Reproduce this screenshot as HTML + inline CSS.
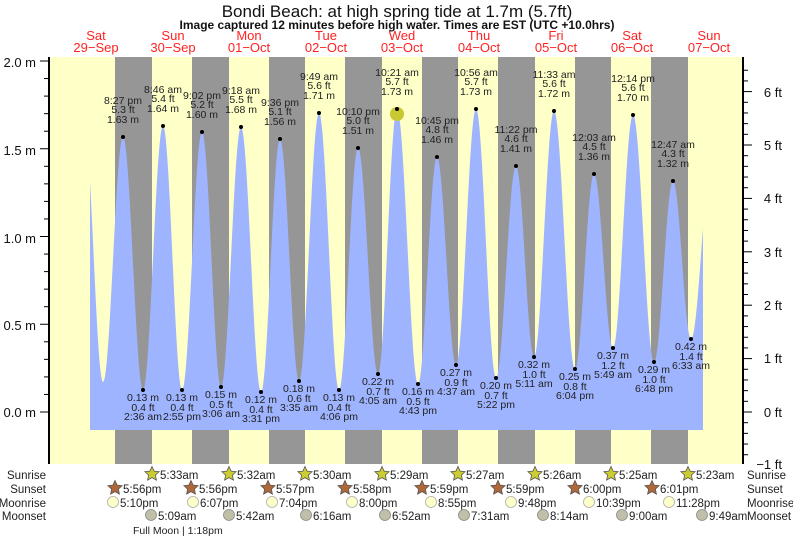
<!DOCTYPE html>
<html><head><meta charset="utf-8"><style>
html,body{margin:0;padding:0;background:#fff;}
svg{display:block;font-family:"Liberation Sans",sans-serif;}
.pk text,.tr text{font-size:10.5px;fill:#222;text-anchor:middle;}
.ax{font-size:13px;fill:#111;}
.rw{font-size:11.5px;fill:#222;}
.dl{font-size:13px;fill:#f22;text-anchor:middle;}
</style></head><body>
<svg id="s" width="793" height="538" viewBox="0 0 793 538">
<rect x="49" y="57" width="694" height="407" fill="#ffffc8"/>
<g fill="#969696">
<rect x="115" y="57" width="37" height="407"/><rect x="192" y="57" width="37" height="407"/>
<rect x="269" y="57" width="36" height="407"/><rect x="345" y="57" width="37" height="407"/>
<rect x="422" y="57" width="36" height="407"/><rect x="498" y="57" width="37" height="407"/>
<rect x="575" y="57" width="36" height="407"/><rect x="651" y="57" width="37" height="407"/>
</g>
<path id="tide" fill="#9fb4ff" d=""/>
<circle cx="397" cy="114" r="7" fill="#c8c832"/>
<line x1="49" y1="57" x2="49" y2="464" stroke="#000" stroke-width="2"/>
<line x1="743" y1="57" x2="743" y2="464" stroke="#000" stroke-width="2"/>
<g id="ticks" stroke="#000" stroke-width="1"></g>
<text x="397" y="17" font-size="17" text-anchor="middle" fill="#111">Bondi Beach: at high  spring tide at 1.7m (5.7ft)</text>
<text x="397" y="29" font-size="12" font-weight="bold" text-anchor="middle" fill="#111">Image captured 12 minutes before high water. Times are EST (UTC +10.0hrs)</text>
<g>
<text class="dl" x="96" y="40">Sat</text><text class="dl" x="96" y="52">29−Sep</text>
<text class="dl" x="173" y="40">Sun</text><text class="dl" x="173" y="52">30−Sep</text>
<text class="dl" x="249" y="40">Mon</text><text class="dl" x="249" y="52">01−Oct</text>
<text class="dl" x="326" y="40">Tue</text><text class="dl" x="326" y="52">02−Oct</text>
<text class="dl" x="402" y="40">Wed</text><text class="dl" x="402" y="52">03−Oct</text>
<text class="dl" x="479" y="40">Thu</text><text class="dl" x="479" y="52">04−Oct</text>
<text class="dl" x="556" y="40">Fri</text><text class="dl" x="556" y="52">05−Oct</text>
<text class="dl" x="632" y="40">Sat</text><text class="dl" x="632" y="52">06−Oct</text>
<text class="dl" x="709" y="40">Sun</text><text class="dl" x="709" y="52">07−Oct</text>
</g>
<g class="ax" text-anchor="end">
<text x="36" y="67">2.0 m</text><text x="36" y="155">1.5 m</text><text x="36" y="243">1.0 m</text><text x="36" y="330">0.5 m</text><text x="36" y="417">0.0 m</text>
</g>
<g class="ax" text-anchor="end">
<text x="782" y="97">6 ft</text><text x="782" y="150">5 ft</text><text x="782" y="203">4 ft</text><text x="782" y="257">3 ft</text><text x="782" y="310">2 ft</text><text x="782" y="363">1 ft</text><text x="782" y="417">0 ft</text><text x="782" y="469">−1 ft</text>
</g>
<g class="pk" id="pk"></g>
<g class="tr" id="tr"></g>
<g class="rw">
<text x="46" y="479" text-anchor="end">Sunrise</text><text x="46" y="493" text-anchor="end">Sunset</text><text x="46" y="507" text-anchor="end">Moonrise</text><text x="46" y="520" text-anchor="end">Moonset</text>
<text x="747" y="479">Sunrise</text><text x="747" y="493">Sunset</text><text x="747" y="507">Moonrise</text><text x="747" y="520">Moonset</text>
</g>
<g id="astro" class="rw"></g>
<text x="133" y="534" font-size="10.5" fill="#222">Full Moon | 1:18pm</text>
</svg>
<script>
var NS="http://www.w3.org/2000/svg";
function el(t,a,p,txt){var e=document.createElementNS(NS,t);for(var k in a)e.setAttribute(k,a[k]);if(txt!==undefined)e.textContent=txt;p.appendChild(e);return e;}
var ex=[[84,123],[103,382],[123,137],[143,390],[163,126],[182,390],[202,132],[221,387],[241,127],[261,392],[280,139],[299,381],[319,113],[339,390],[358,148],[378,374],[397,109],[418,384],[437,157],[456,365],[476,109],[496,378],[516,166],[534,357],[554,111],[575,369],[594,174],[613,348],[633,115],[654,362],[673,181],[691,339],[712,157]];
var d="M90,430";
for(var x=90;x<=703;x+=0.5){var i=0;while(ex[i+1][0]<x)i++;var a=ex[i],b=ex[i+1];var f=(x-a[0])/(b[0]-a[0]);var y=a[1]+(b[1]-a[1])*(1-Math.cos(Math.PI*f))/2;d+=" L"+x+","+y.toFixed(1);}
d+=" L703,430 Z";document.getElementById("tide").setAttribute("d",d);
var tk=document.getElementById("ticks");
for(var j=0;j<=23;j++){var yy=412-j*17.55;if(yy<57)break;var big=(j%5==0);el("line",{x1:big?40:44,y1:yy,x2:49,y2:yy},tk);}
for(j=-1;j<=6.6;j+=0.2){var y2=412-j*53.4;if(y2<57||y2>465)continue;var bg=Math.abs(j-Math.round(j))<0.01;el("line",{x1:743,y1:y2,x2:bg?752:748,y2:y2},tk);}
var pk=[[123,137,"8:27 pm","5.3 ft","1.63 m"],[163,126,"8:46 am","5.4 ft","1.64 m"],[202,132,"9:02 pm","5.2 ft","1.60 m"],[241,127,"9:18 am","5.5 ft","1.68 m"],[280,139,"9:36 pm","5.1 ft","1.56 m"],[319,113,"9:49 am","5.6 ft","1.71 m"],[358,148,"10:10 pm","5.0 ft","1.51 m"],[397,109,"10:21 am","5.7 ft","1.73 m"],[437,157,"10:45 pm","4.8 ft","1.46 m"],[476,109,"10:56 am","5.7 ft","1.73 m"],[516,166,"11:22 pm","4.6 ft","1.41 m"],[554,111,"11:33 am","5.6 ft","1.72 m"],[594,174,"12:03 am","4.5 ft","1.36 m"],[633,115,"12:14 pm","5.6 ft","1.70 m"],[673,181,"12:47 am","4.3 ft","1.32 m"]];
var tr=[[143,390,"0.13 m","0.4 ft","2:36 am"],[182,390,"0.13 m","0.4 ft","2:55 pm"],[221,387,"0.15 m","0.5 ft","3:06 am"],[261,392,"0.12 m","0.4 ft","3:31 pm"],[299,381,"0.18 m","0.6 ft","3:35 am"],[339,390,"0.13 m","0.4 ft","4:06 pm"],[378,374,"0.22 m","0.7 ft","4:05 am"],[418,384,"0.16 m","0.5 ft","4:43 pm"],[456,365,"0.27 m","0.9 ft","4:37 am"],[496,378,"0.20 m","0.7 ft","5:22 pm"],[534,357,"0.32 m","1.0 ft","5:11 am"],[575,369,"0.25 m","0.8 ft","6:04 pm"],[613,348,"0.37 m","1.2 ft","5:49 am"],[654,362,"0.29 m","1.0 ft","6:48 pm"],[691,339,"0.42 m","1.4 ft","6:33 am"]];
var gp=document.getElementById("pk"),gt=document.getElementById("tr");
pk.forEach(function(p){el("circle",{cx:p[0],cy:p[1],r:2,fill:"#000"},gp);el("text",{x:p[0],y:p[1]-33},gp,p[2]);el("text",{x:p[0],y:p[1]-24},gp,p[3]);el("text",{x:p[0],y:p[1]-14},gp,p[4]);});
tr.forEach(function(p){el("circle",{cx:p[0],cy:p[1],r:2,fill:"#000"},gt);el("text",{x:p[0],y:p[1]+11},gt,p[2]);el("text",{x:p[0],y:p[1]+21},gt,p[3]);el("text",{x:p[0],y:p[1]+30},gt,p[4]);});
var ga=document.getElementById("astro");
function star(cx,cy,fill){var s="";for(var k=0;k<10;k++){var r=k%2?3.6:7.5;var a=-Math.PI/2+k*Math.PI/5;s+=(cx+r*Math.cos(a)).toFixed(1)+","+(cy+r*Math.sin(a)).toFixed(1)+" ";}el("polygon",{points:s,fill:fill,stroke:"#555","stroke-width":0.8},ga);}
var sr=[[152,"5:33am"],[229,"5:32am"],[305,"5:30am"],[382,"5:29am"],[458,"5:27am"],[535,"5:26am"],[611,"5:25am"],[688,"5:23am"]];
var ss=[[115,"5:56pm"],[191,"5:56pm"],[268,"5:57pm"],[345,"5:58pm"],[422,"5:59pm"],[498,"5:59pm"],[575,"6:00pm"],[652,"6:01pm"]];
var mr=[[113,"5:10pm"],[193,"6:07pm"],[272,"7:04pm"],[352,"8:00pm"],[431,"8:55pm"],[511,"9:48pm"],[589,"10:39pm"],[669,"11:28pm"]];
var ms=[[151,"5:09am"],[229,"5:42am"],[306,"6:16am"],[385,"6:52am"],[464,"7:31am"],[543,"8:14am"],[622,"9:00am"],[702,"9:49am"]];
sr.forEach(function(p){star(p[0],474,"#cccc33");el("text",{x:p[0]+8,y:479},ga,p[1]);});
ss.forEach(function(p){star(p[0],488,"#b06838");el("text",{x:p[0]+8,y:493},ga,p[1]);});
mr.forEach(function(p){el("circle",{cx:p[0],cy:502,r:5.5,fill:"#ffffc8",stroke:"#aaa","stroke-width":0.8},ga);el("text",{x:p[0]+7,y:507},ga,p[1]);});
ms.forEach(function(p){el("circle",{cx:p[0],cy:515,r:5.5,fill:"#c0c0a8",stroke:"#888","stroke-width":0.8},ga);el("text",{x:p[0]+7,y:520},ga,p[1]);});
</script>
</body></html>
